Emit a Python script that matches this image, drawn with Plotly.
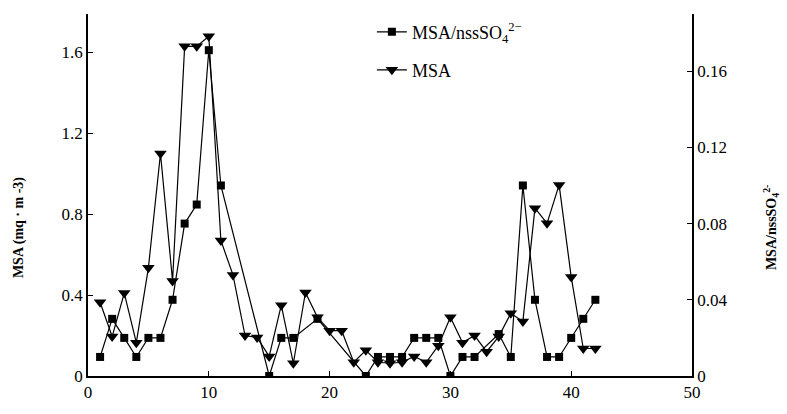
import plotly.graph_objects as go

# MSA (left axis, mg·m-3) - triangles
msa_x = list(range(1, 43))
msa_y = [0.365, 0.195, 0.41, 0.165, 0.535, 1.10, 0.47, 1.63, 1.63, 1.68,
         0.67, 0.50, 0.20, 0.19, 0.097, 0.35, 0.063, 0.413, 0.29, 0.224,
         0.224, 0.068, 0.127, 0.068, 0.063, 0.068, 0.097, 0.068, 0.15, 0.29,
         0.165, 0.20, 0.12, 0.195, 0.31, 0.27, 0.83, 0.755, 0.945, 0.49,
         0.136, 0.136]

# MSA/nssSO4 ratio (right axis) - squares
ratio_x = [1, 2, 3, 4, 5, 6, 7, 8, 9, 10, 11, 15, 16, 17, 19, 23, 24, 25, 26,
           27, 28, 29, 30, 31, 32, 34, 35, 36, 37, 38, 39, 40, 41, 42]
ratio_y = [0.010, 0.030, 0.020, 0.010, 0.020, 0.020, 0.040, 0.080, 0.090, 0.171,
           0.100, 0.0, 0.020, 0.020, 0.030, 0.0, 0.010, 0.010, 0.010,
           0.020, 0.020, 0.020, 0.0, 0.010, 0.010, 0.022, 0.010, 0.100, 0.040,
           0.010, 0.010, 0.020, 0.030, 0.040]

x_ticks = [0, 10, 20, 30, 40, 50]
left_ticks = [0, 0.4, 0.8, 1.2, 1.6]
left_labels = ["0", "0.4", "0.8", "1.2", "1.6"]
right_ticks = [0, 0.04, 0.08, 0.12, 0.16]
right_labels = ["0", "0.04", "0.08", "0.12", "0.16"]

FONT = "Liberation Serif"

fig = go.Figure()
fig.add_trace(go.Scatter(
    x=ratio_x, y=ratio_y, yaxis="y2", mode="lines+markers",
    name="MSA/nssSO<sub>4</sub><sup>2−</sup>",
    line=dict(color="black", width=1.2),
    marker=dict(symbol="square", size=8, color="black"),
    legend="legend",
))
fig.add_trace(go.Scatter(
    x=msa_x, y=msa_y, mode="lines+markers", name="MSA",
    line=dict(color="black", width=1.2),
    marker=dict(symbol="triangle-down", size=11, color="black"),
    legend="legend2",
))

axis_common = dict(
    showline=True, linecolor="black", linewidth=1.5, ticks="inside",
    ticklen=5, tickcolor="black", showgrid=False, zeroline=False,
    tickfont=dict(family=FONT, size=17, color="black"),
)

fig.update_layout(
    width=787, height=414,
    margin=dict(l=88, r=95, t=14, b=32),
    paper_bgcolor="white", plot_bgcolor="white",
    xaxis=dict(range=[0, 50], tickvals=x_ticks, ticktext=[str(v) for v in x_ticks],
               **axis_common),
    yaxis=dict(range=[0, 1.79], tickvals=left_ticks, ticktext=left_labels,
               **axis_common),
    yaxis2=dict(range=[0, 0.19], tickvals=right_ticks, ticktext=right_labels,
                overlaying="y", side="right", **axis_common),
    legend=dict(x=0.47, y=0.95, xanchor="left", yanchor="middle",
                bgcolor="rgba(0,0,0,0)",
                font=dict(family=FONT, size=18, color="black")),
    legend2=dict(x=0.47, y=0.845, xanchor="left", yanchor="middle",
                 bgcolor="rgba(0,0,0,0)",
                 font=dict(family=FONT, size=18, color="black")),
    showlegend=True,
    annotations=[
        dict(text="<b>MSA (mq · m -3)</b>", xref="paper", yref="paper",
             x=-0.115, y=0.41, textangle=-90, showarrow=False,
             xanchor="center", yanchor="middle",
             font=dict(family=FONT, size=14, color="black")),
        dict(text="<b>MSA/nssSO<sub>4</sub><sup>2-</sup></b>", xref="paper",
             yref="paper", x=1.13, y=0.41, textangle=-90, showarrow=False,
             xanchor="center", yanchor="middle",
             font=dict(family=FONT, size=14, color="black")),
    ],
)

fig.write_html("out.html")
